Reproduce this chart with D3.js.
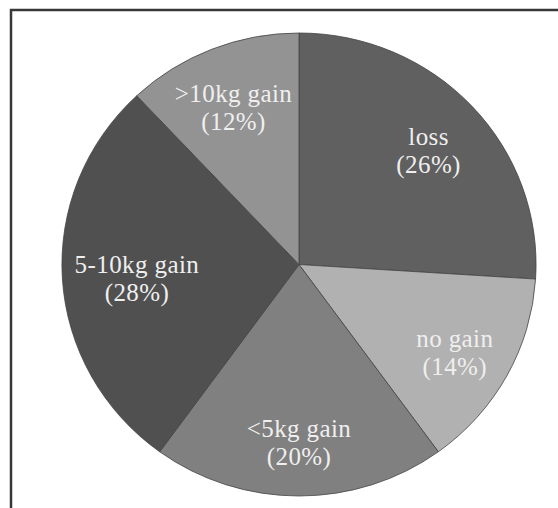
<!DOCTYPE html>
<html>
<head>
    <meta charset="utf-8">
    <title>Weight change pie</title>
    <script src="https://cdn.jsdelivr.net/npm/d3@7"></script>
    <style>
        body { margin: 0; background: #fff; }
        .slice { stroke: #444; stroke-width: 0.8px; vector-effect: non-scaling-stroke; }
        .label { font-family: "Liberation Serif", "Times New Roman", serif; font-size: 25px; letter-spacing: 0.4px; fill: #efefef; }
        .frame { fill: none; stroke: #383838; stroke-width: 2.5px; }
    </style>
</head>
<body>
<script>
    var categories = ["loss", "no gain", "<5kg gain", "5-10kg gain", ">10kg gain"];
    var percents = [26, 14, 20, 28, 12];
    var colours = ["#606060", "#b1b1b1", "#808080", "#505050", "#939393"];

    var width = 558, height = 508,
        cx = 299, cy = 264.5,
        radius = 231.5,
        stretch = 1.024; // picture is a bit wider than tall

    var svg = d3.select("body").append("svg")
        .attr("width", width)
        .attr("height", height);

    svg.append("rect")
        .attr("class", "frame")
        .attr("x", 11).attr("y", 10)
        .attr("width", 700).attr("height", 700);

    var pie = d3.pie().sort(null).value(function (d) { return d; });
    var arcs = pie(percents);

    var arc = d3.arc().innerRadius(0).outerRadius(radius);

    var g = svg.append("g")
        .attr("transform", "translate(" + cx + "," + cy + ") scale(" + stretch + ",1)");

    g.selectAll("path")
        .data(arcs)
        .enter().append("path")
        .attr("class", "slice")
        .attr("fill", function (d, i) { return colours[i]; })
        .attr("d", arc);

    var labels = svg.append("g")
        .attr("transform", "translate(" + cx + "," + cy + ")")
        .selectAll("text")
        .data(arcs)
        .enter().append("text")
        .attr("class", "label")
        .attr("text-anchor", "middle");

    labels.append("tspan")
        .attr("x", 0).attr("y", -1)
        .text(function (d, i) { return categories[i]; });

    labels.append("tspan")
        .attr("x", 0).attr("y", 27)
        .text(function (d) { return "(" + d.data + "%)"; });

    // put each label on its mid angle, then pull it in until the box fits inside the pie
    labels.each(function (d) {
        var box = this.getBBox(),
            a = (d.startAngle + d.endAngle) / 2,
            ux = Math.sin(a), uy = -Math.cos(a),
            t = radius * 0.75,
            limit = radius * 0.965;

        function fits(t) {
            var px = ux * t, py = uy * t;
            return [[box.x, box.y], [box.x + box.width, box.y],
                    [box.x, box.y + box.height], [box.x + box.width, box.y + box.height]]
                .every(function (c) {
                    var x = px + c[0] / stretch, y = py + c[1];
                    return Math.sqrt(x * x + y * y) <= limit;
                });
        }
        while (t > 0 && !fits(t)) t -= 1;

        d3.select(this).attr("transform",
            "translate(" + (ux * t * stretch) + "," + (uy * t) + ")");
    });
</script>
</body>
</html>
